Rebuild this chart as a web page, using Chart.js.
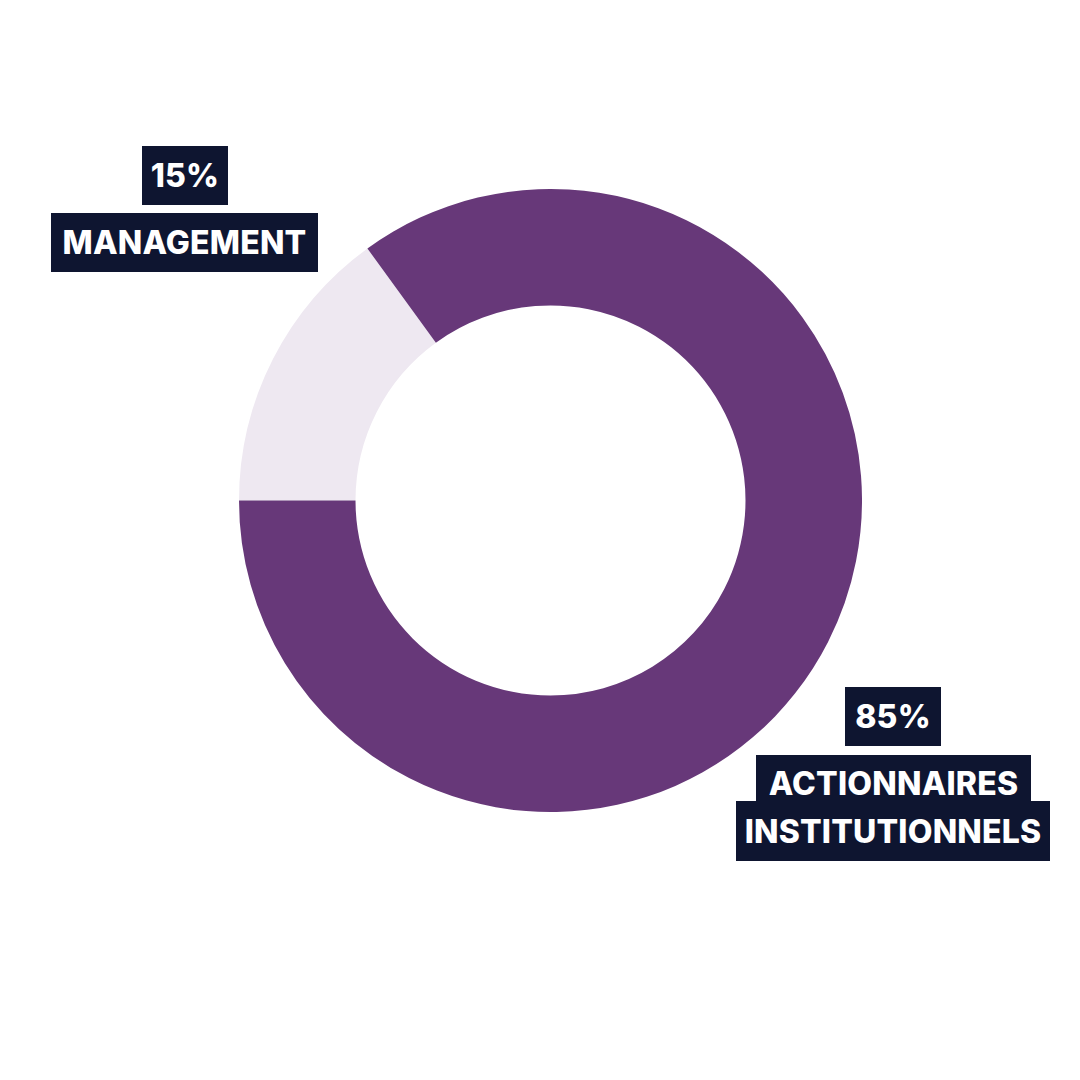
<!DOCTYPE html>
<html>
<head>
<meta charset="utf-8">
<script src="https://cdn.jsdelivr.net/npm/chart.js@4/dist/chart.umd.min.js"></script>
<style>
  html, body { margin: 0; padding: 0; background: #ffffff; }
  #page { position: relative; width: 1080px; height: 1080px; overflow: hidden; }
  #chartBox { position: absolute; left: 239px; top: 189px; width: 623px; height: 623px; }
  .tag {
    position: absolute;
    background: #0e1530;
    color: #ffffff;
    font-family: "Inter", "DejaVu Sans", sans-serif;
    font-weight: 800;
    font-size: 32px;
    letter-spacing: 0.2px;
    display: flex;
    align-items: center;
    justify-content: center;
    white-space: nowrap;
  }
</style>
</head>
<body>
<div id="page">
  <div id="chartBox"><canvas id="chart"></canvas></div>
  <div id="labels"></div>
</div>
<script>
// ---------------------------------------------------------------------------
// Data
// ---------------------------------------------------------------------------
const categories = ["Management", "Actionnaires institutionnels"];
const shares = [15, 85];
const sliceColors = ["#eee8f1", "#673879"];

// text shown in the dark tags
const pctLabels = ["15%", "85%"];
const nameLabels = [["MANAGEMENT"], ["ACTIONNAIRES", "INSTITUTIONNELS"]];

// ---------------------------------------------------------------------------
// Tags (boxes placed like in the original layout)
// ---------------------------------------------------------------------------
const tagBoxes = [
  [{ x: 142, y: 146, w: 86, h: 59 }, { x: 51, y: 213, w: 267, h: 59 }],
  [{ x: 845, y: 687, w: 96, h: 59 }, { x: 756, y: 755, w: 275, h: 50, pt: 6 }, { x: 736, y: 801, w: 314, h: 60 }],
];

const labelsEl = document.getElementById("labels");
tagBoxes.forEach((boxes, i) => {
  const texts = [pctLabels[i]].concat(nameLabels[i]);
  boxes.forEach((b, j) => {
    const d = document.createElement("div");
    d.className = "tag";
    d.style.left = b.x + "px";
    d.style.top = b.y + "px";
    d.style.width = b.w + "px";
    d.style.height = b.h + "px";
    d.style.boxSizing = "border-box";
    if (b.pt) d.style.paddingTop = b.pt + "px";
    d.textContent = texts[j];
    labelsEl.appendChild(d);
  });
});

// ---------------------------------------------------------------------------
// Chart
// ---------------------------------------------------------------------------
const ctx = document.getElementById("chart").getContext("2d");
new Chart(ctx, {
  type: "doughnut",
  data: {
    labels: categories,
    datasets: [{
      data: shares,
      backgroundColor: sliceColors,
      borderWidth: 0,
      hoverOffset: 0,
    }],
  },
  options: {
    responsive: true,
    maintainAspectRatio: false,
    animation: false,
    rotation: 270,
    cutout: "62.6%",
    layout: { padding: 0 },
    plugins: {
      legend: { display: false },
      tooltip: { enabled: false },
    },
  },
});
</script>
</body>
</html>
